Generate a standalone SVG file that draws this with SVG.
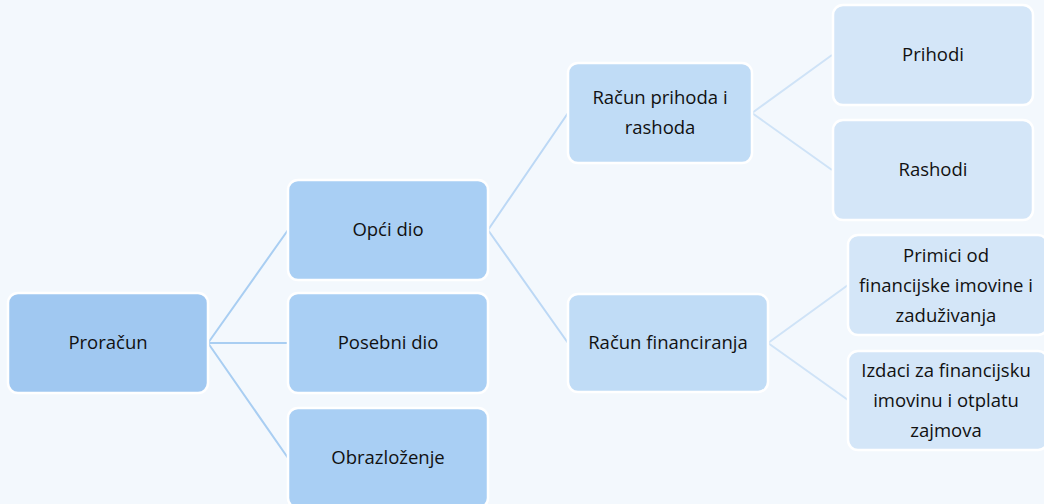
<svg xmlns="http://www.w3.org/2000/svg" width="1044" height="504" viewBox="0 0 1044 504">
<style>
text{font-family:"Open Sans","Liberation Sans",sans-serif;font-size:18.5px;fill:#111;text-anchor:middle}
.box{stroke:#ffffff;stroke-width:2.5}
.l0{fill:#a0c8f1}
.l1{fill:#a9cff4}
.l2{fill:#c0dcf6}
.l3{fill:#d4e6f8}
.c1{stroke:#a9cef2;stroke-width:2;fill:none}
.c2{stroke:#bcd8f5;stroke-width:2;fill:none}
.c3{stroke:#cfe3f7;stroke-width:2;fill:none}
</style>
<rect width="1044" height="504" fill="#f3f8fd"/>
<g id="connectors">
<path class="c1" d="M208 343 L288 230 M208 343 L288 343 M208 343 L288 458"/>
<path class="c2" d="M488 230 L568 113 M488 230 L568 343"/>
<path class="c3" d="M752 113 L832 55 M752 113 L832 170 M768 343 L848 285 M768 343 L848 400"/>
</g>
<g id="n-proracun"><rect class="box l0" x="8" y="293" width="200" height="100" rx="10"/><text x="108" y="349">Proračun</text></g>
<g id="n-opci"><rect class="box l1" x="288" y="180" width="200" height="100" rx="10"/><text x="388" y="236">Opći dio</text></g>
<g id="n-posebni"><rect class="box l1" x="288" y="293" width="200" height="100" rx="10"/><text x="388" y="349">Posebni dio</text></g>
<g id="n-obrazlozenje"><rect class="box l1" x="288" y="408" width="200" height="100" rx="10"/><text x="388" y="464">Obrazloženje</text></g>
<g id="n-racun-prihoda"><rect class="box l2" x="568" y="63" width="184" height="100" rx="10"/><text x="660" y="104">Račun prihoda i</text><text x="660" y="134">rashoda</text></g>
<g id="n-racun-fin"><rect class="box l2" x="568" y="294" width="200" height="98" rx="10"/><text x="668" y="349">Račun financiranja</text></g>
<g id="n-prihodi"><rect class="box l3" x="833" y="5" width="200" height="100" rx="10"/><text x="933" y="61">Prihodi</text></g>
<g id="n-rashodi"><rect class="box l3" x="833" y="120" width="200" height="100" rx="10"/><text x="933" y="176">Rashodi</text></g>
<g id="n-primici"><rect class="box l3" x="848" y="235" width="200" height="100" rx="10"/><text x="946" y="262">Primici od</text><text x="946" y="292">financijske imovine i</text><text x="946" y="322">zaduživanja</text></g>
<g id="n-izdaci"><rect class="box l3" x="848" y="351" width="200" height="99" rx="10"/><text x="946" y="377">Izdaci za financijsku</text><text x="946" y="407">imovinu i otplatu</text><text x="946" y="437">zajmova</text></g>
</svg>
